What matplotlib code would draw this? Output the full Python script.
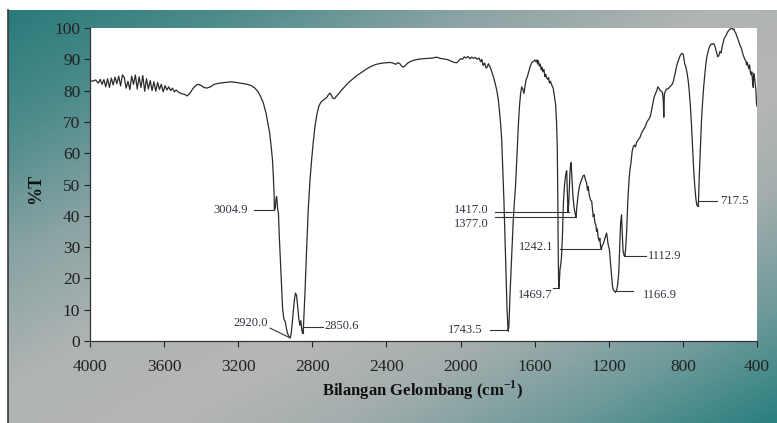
import matplotlib
matplotlib.use('Agg')
import numpy as np
import matplotlib.pyplot as plt
from matplotlib.colors import LinearSegmentedColormap
from matplotlib.lines import Line2D

# FTIR spectrum (wavenumber cm-1, %T)
wavenumber = [
    4000, 3985, 3970, 3955, 3945, 3935, 3925, 3915, 3905, 3895, 3885, 3875, 3865, 3855,
    3845, 3835, 3825, 3815, 3805, 3795, 3785, 3775, 3765, 3755, 3745, 3735, 3725, 3715,
    3705, 3695, 3685, 3675, 3665, 3655, 3645, 3635, 3625, 3615, 3605, 3595, 3585, 3575,
    3565, 3555, 3545, 3535, 3520, 3505, 3490, 3475, 3460, 3445, 3430, 3415, 3400, 3385,
    3370, 3350, 3330, 3300, 3270, 3240, 3210, 3180, 3150, 3130, 3110, 3095, 3080, 3065,
    3050, 3040, 3030, 3022, 3015, 3010, 3006, 3004.9, 3000, 2996, 2993, 2990, 2987, 2983,
    2978, 2972, 2966, 2961, 2957, 2953, 2949, 2945, 2940, 2934, 2928, 2922, 2918, 2913,
    2908, 2902, 2896, 2891, 2885, 2879, 2873, 2867, 2862, 2857, 2852, 2848, 2844, 2840,
    2831, 2822, 2813, 2804, 2795, 2786, 2775, 2765, 2755, 2745, 2735, 2722, 2712, 2705,
    2698, 2690, 2680, 2670, 2655, 2640, 2620, 2600, 2580, 2560, 2540, 2520, 2500, 2480,
    2460, 2440, 2420, 2400, 2380, 2365, 2350, 2338, 2328, 2318, 2308, 2298, 2285, 2270,
    2250, 2230, 2200, 2170, 2150, 2130, 2110, 2090, 2070, 2050, 2035, 2020, 2010, 2000,
    1990, 1980, 1970, 1960, 1950, 1940, 1930, 1920, 1910, 1900, 1892, 1885, 1878, 1870,
    1862, 1855, 1850, 1841, 1832, 1823, 1814, 1805, 1797, 1790, 1784, 1778, 1772, 1766,
    1760, 1754, 1749, 1745, 1743.5, 1740, 1737, 1733, 1728, 1722, 1716, 1710, 1704, 1698,
    1692, 1688, 1682, 1676, 1670, 1664, 1658, 1652, 1646, 1640, 1632, 1625, 1615, 1605,
    1598, 1592, 1588, 1584, 1580, 1575, 1570, 1565, 1560, 1556, 1550, 1545, 1540, 1536,
    1530, 1525, 1520, 1515, 1508, 1500, 1492, 1487, 1482, 1478, 1475, 1473, 1471, 1469.7,
    1467, 1463, 1459, 1455, 1450, 1445, 1440, 1435, 1430, 1427, 1424, 1420, 1416, 1410,
    1406, 1403, 1399, 1393, 1387, 1381, 1377, 1372, 1365, 1358, 1350, 1344, 1338, 1332,
    1326, 1320, 1315, 1311, 1305, 1298, 1292, 1288, 1284, 1280, 1275, 1270, 1266, 1262,
    1257, 1252, 1248, 1244, 1240, 1236, 1230, 1226, 1220, 1215, 1212, 1208, 1204, 1197,
    1191, 1185, 1180, 1176, 1172, 1167, 1162, 1157, 1152, 1146, 1141, 1136, 1131, 1127,
    1123, 1118, 1113, 1109, 1104, 1097, 1090, 1086, 1080, 1074, 1068, 1062, 1056, 1050,
    1044, 1038, 1032, 1026, 1020, 1014, 1008, 1000, 994, 987, 980, 975, 969, 962,
    955, 948, 941, 935, 928, 922, 916, 911, 906, 903, 900, 895, 889, 882,
    876, 870, 864, 858, 852, 846, 840, 834, 828, 822, 816, 810, 804, 798,
    794, 790, 786, 782, 778, 772, 766, 760, 754, 748, 742, 736, 730, 725,
    721, 717.5, 715, 712, 708, 704, 700, 694, 688, 682, 676, 670, 664, 658,
    652, 646, 640, 634, 628, 622, 616, 612, 606, 600, 594, 588, 582, 576,
    570, 564, 558, 552, 546, 540, 534, 528, 524, 520, 515, 510, 505, 500,
    495, 490, 484, 478, 472, 466, 460, 456, 452, 448, 444, 440, 436, 432,
    428, 424, 420, 418, 414, 410, 406, 403, 400,
]
transmittance = [
    83.2, 83.0, 83.4, 82.4, 83.6, 82.0, 83.5, 81.2, 83.8, 81.0, 84.0, 81.8, 84.3, 82.2,
    84.6, 81.5, 85.0, 84.2, 80.8, 83.0, 80.3, 84.6, 82.0, 85.0, 80.5, 84.4, 81.0, 84.8,
    79.8, 83.8, 80.5, 83.2, 80.0, 82.8, 79.8, 82.6, 80.4, 82.0, 79.6, 81.6, 80.2, 81.2,
    80.0, 80.8, 79.6, 80.2, 79.4, 79.0, 78.8, 78.3, 79.2, 80.6, 81.6, 82.0, 81.6, 81.0,
    80.8, 81.2, 82.0, 82.4, 82.6, 82.8, 82.6, 82.3, 82.0, 81.6, 80.8, 79.8, 78.2, 76.2,
    72.8, 69.5, 66.4, 62.0, 57.8, 52.0, 46.0, 41.8, 42.5, 45.5, 46.2, 44.5, 42.0, 41.0,
    33.0, 25.0, 17.0, 11.0, 8.5, 7.0, 6.5, 5.8, 4.0, 2.5, 1.6, 1.0, 1.2, 3.0,
    6.0, 10.0, 13.5, 15.3, 14.5, 11.0, 7.0, 5.0, 6.5, 3.5, 2.4, 4.5, 10.0, 15.0,
    29.0, 42.0, 51.0, 57.8, 63.5, 68.5, 72.5, 75.0, 76.2, 76.8, 77.2, 77.8, 78.8, 79.2,
    78.6, 77.6, 77.4, 78.2, 79.2, 80.3, 81.6, 82.8, 83.8, 84.8, 85.6, 86.4, 87.2, 87.8,
    88.3, 88.6, 88.8, 88.9, 89.0, 88.8, 88.4, 88.9, 88.6, 87.8, 87.5, 88.0, 88.8, 89.3,
    89.7, 90.0, 90.2, 90.3, 90.4, 90.7, 90.3, 90.1, 89.9, 89.4, 89.0, 88.9, 89.6, 90.2,
    90.0, 90.8, 90.4, 90.9, 90.2, 90.7, 90.3, 90.6, 90.0, 90.4, 89.2, 90.0, 88.0, 88.8,
    87.2, 87.6, 88.6, 87.6, 86.0, 84.5, 82.5, 80.2, 77.5, 73.5, 69.5, 64.5, 55.0, 45.0,
    33.0, 20.0, 10.0, 5.0, 3.3, 4.2, 8.0, 15.0, 22.0, 30.0, 38.0, 44.0, 49.0, 56.0,
    64.0, 69.0, 75.0, 79.0, 81.2, 80.5, 79.1, 81.5, 83.5, 84.4, 86.0, 87.6, 89.0, 89.4,
    89.8, 89.2, 89.8, 88.5, 89.5, 87.8, 88.5, 86.6, 87.5, 86.0, 86.8, 84.5, 85.2, 84.1,
    83.6, 84.2, 82.4, 83.0, 81.8, 80.8, 77.5, 75.6, 70.0, 62.0, 45.0, 30.0, 20.0, 17.0,
    19.0, 23.0, 24.5, 27.0, 34.0, 44.0, 49.0, 52.0, 54.0, 54.4, 48.0, 41.3, 44.0, 53.0,
    56.5, 57.0, 52.0, 46.0, 42.5, 40.5, 39.7, 43.0, 47.0, 49.5, 51.0, 52.0, 52.8, 53.0,
    51.5, 50.6, 48.2, 49.3, 46.5, 45.0, 44.6, 42.0, 39.7, 40.5, 37.8, 37.2, 35.0, 35.8,
    33.0, 32.0, 32.8, 30.1, 29.3, 30.5, 31.0, 31.8, 33.0, 34.0, 34.5, 33.0, 31.0, 29.3,
    25.0, 20.5, 17.5, 16.4, 16.0, 15.8, 15.8, 16.3, 18.0, 22.0, 30.0, 38.0, 40.3, 34.0,
    29.0, 27.4, 27.0, 29.5, 34.4, 45.0, 52.0, 54.6, 57.0, 60.5, 62.1, 62.6, 62.0, 63.5,
    64.0, 64.5, 65.0, 66.0, 66.8, 67.4, 68.0, 69.0, 70.0, 70.6, 71.2, 72.0, 73.8, 76.0,
    78.0, 79.0, 80.0, 81.2, 80.6, 80.0, 79.8, 79.5, 77.0, 71.5, 79.0, 79.6, 80.5, 80.5,
    80.8, 81.2, 81.6, 82.0, 82.8, 84.5, 86.0, 87.8, 89.0, 90.0, 91.0, 91.6, 91.9, 91.6,
    90.0, 88.5, 88.0, 87.0, 85.8, 83.5, 80.0, 75.5, 69.5, 62.0, 55.0, 49.5, 45.5, 43.5,
    43.1, 43.0, 46.0, 52.0, 58.0, 64.0, 70.0, 76.0, 81.0, 85.0, 88.5, 91.0, 92.5, 93.8,
    94.5, 94.9, 94.8, 95.0, 94.4, 93.0, 91.5, 90.8, 91.2, 92.5, 92.0, 94.0, 95.5, 96.8,
    97.3, 98.0, 98.8, 99.2, 99.6, 99.8, 99.9, 99.5, 99.7, 98.8, 98.5, 97.5, 96.8, 96.0,
    95.0, 94.2, 93.5, 92.0, 91.0, 90.0, 89.5, 88.2, 89.0, 87.8, 87.0, 88.2, 86.0, 85.0,
    86.0, 83.0, 81.0, 85.5, 84.5, 82.5, 80.0, 76.0, 75.0,
]

# labelled absorption peaks
peak_wn = [3004.9, 2920.0, 2850.6, 1743.5, 1469.7, 1417.0, 1377.0, 1242.1, 1166.9, 1112.9, 717.5]
peak_t = [41.8, 1.0, 2.4, 3.3, 17.0, 41.3, 39.7, 29.3, 15.8, 27.0, 43.0]

x_ticks = [4000, 3600, 3200, 2800, 2400, 2000, 1600, 1200, 800, 400]
y_ticks = [0, 10, 20, 30, 40, 50, 60, 70, 80, 90, 100]

# leader line layout: (line level, far end of line, text x, text y, ha)
leaders = [
    (41.8, 3115, 3147, 41.9, 'right'),
    (None, 3028, 3039, 5.8, 'right'),
    (4.6, 2745, 2732, 4.8, 'left'),
    (3.5, 1841, 1879, 3.5, 'right'),
    (17.0, 1501, 1503, 14.6, 'right'),
    (41.3, 1815, 1847, 41.7, 'right'),
    (39.7, 1815, 1847, 37.3, 'right'),
    (29.3, 1463, 1501, 30.1, 'right'),
    (16.1, 1069, 1015, 14.7, 'left'),
    (27.0, 1000, 988, 27.0, 'left'),
    (44.7, 616, 600, 44.7, 'left'),
]

plt.rcParams['font.family'] = ['Liberation Serif', 'DejaVu Serif']
plt.rcParams['mathtext.fontset'] = 'custom'
plt.rcParams['mathtext.rm'] = 'Liberation Serif'
plt.rcParams['mathtext.bf'] = 'Liberation Serif:bold'

W, H = 777, 423
fig = plt.figure(figsize=(W / 100, H / 100), dpi=100)
fig.patch.set_facecolor('white')

# diagonal teal-grey-teal backdrop
bg = fig.add_axes([8 / W, 0, 1 - 8 / W, 1 - 10 / H])
bg.set_axis_off()
u = np.linspace(0, 1, 400)[None, :]
v = np.linspace(0, 1, 220)[:, None]
grad = (u + v) / 2
cmap = LinearSegmentedColormap.from_list('frame', [
    (0.0, '#2a7a7a'), (0.15, '#4f8c8c'), (0.3, '#8aa3a3'), (0.45, '#afb3b3'),
    (0.6, '#b6b6b6'), (0.72, '#a3adad'), (0.86, '#6f9a9a'), (1.0, '#2a7f7f')])
bg.imshow(grad, cmap=cmap, aspect='auto', extent=[0, 1, 0, 1], vmin=0, vmax=1)
fig.add_artist(Line2D([8 / W, 8 / W], [0, 1 - 10 / H], color='#3a3a3a', lw=1.2))

ax = fig.add_axes([90 / W, 1 - 341 / H, (757 - 90) / W, (341 - 28) / H])
ax.set_facecolor('white')
ax.plot(wavenumber, transmittance, color='#2b2b2b', lw=0.9)
ax.set_xlim(4000, 400)
ax.set_ylim(0, 100)
ax.set_xticks(x_ticks)
ax.set_yticks(y_ticks)
ax.tick_params(axis='x', direction='out', length=4, width=0.8, pad=9, labelsize=12.5, colors='#222222')
ax.tick_params(axis='y', direction='out', length=4, width=0.8, pad=3, labelsize=12.5, colors='#222222')
for s in ['top', 'right']:
    ax.spines[s].set_visible(False)
for s in ['left', 'bottom']:
    ax.spines[s].set_color('#333333')
    ax.spines[s].set_linewidth(0.9)

for wn, t, (lvl, far, tx, ty, ha) in zip(peak_wn, peak_t, leaders, ):
    if lvl is None:
        xs, ys = [wn, far], [t, t + 3.1]
    else:
        xs, ys = [wn, wn, far], [t, lvl, lvl]
    ax.plot(xs, ys, color='#333333', lw=0.8)
    ax.text(tx, ty, f'{wn:.1f}', ha=ha, va='center', fontsize=9, color='#333344')

fig.text(0.544, 1 - 390 / H, r'Bilangan Gelombang (cm$^{\mathbf{-1}}$)', ha='center', va='center',
         fontsize=12, fontweight='bold', color='#111111')
fig.text(0.046, 1 - 189 / H, '%T', ha='center', va='center', rotation=90,
         fontsize=13, fontweight='bold', color='#111111')

fig.savefig('out.png', dpi=100)
